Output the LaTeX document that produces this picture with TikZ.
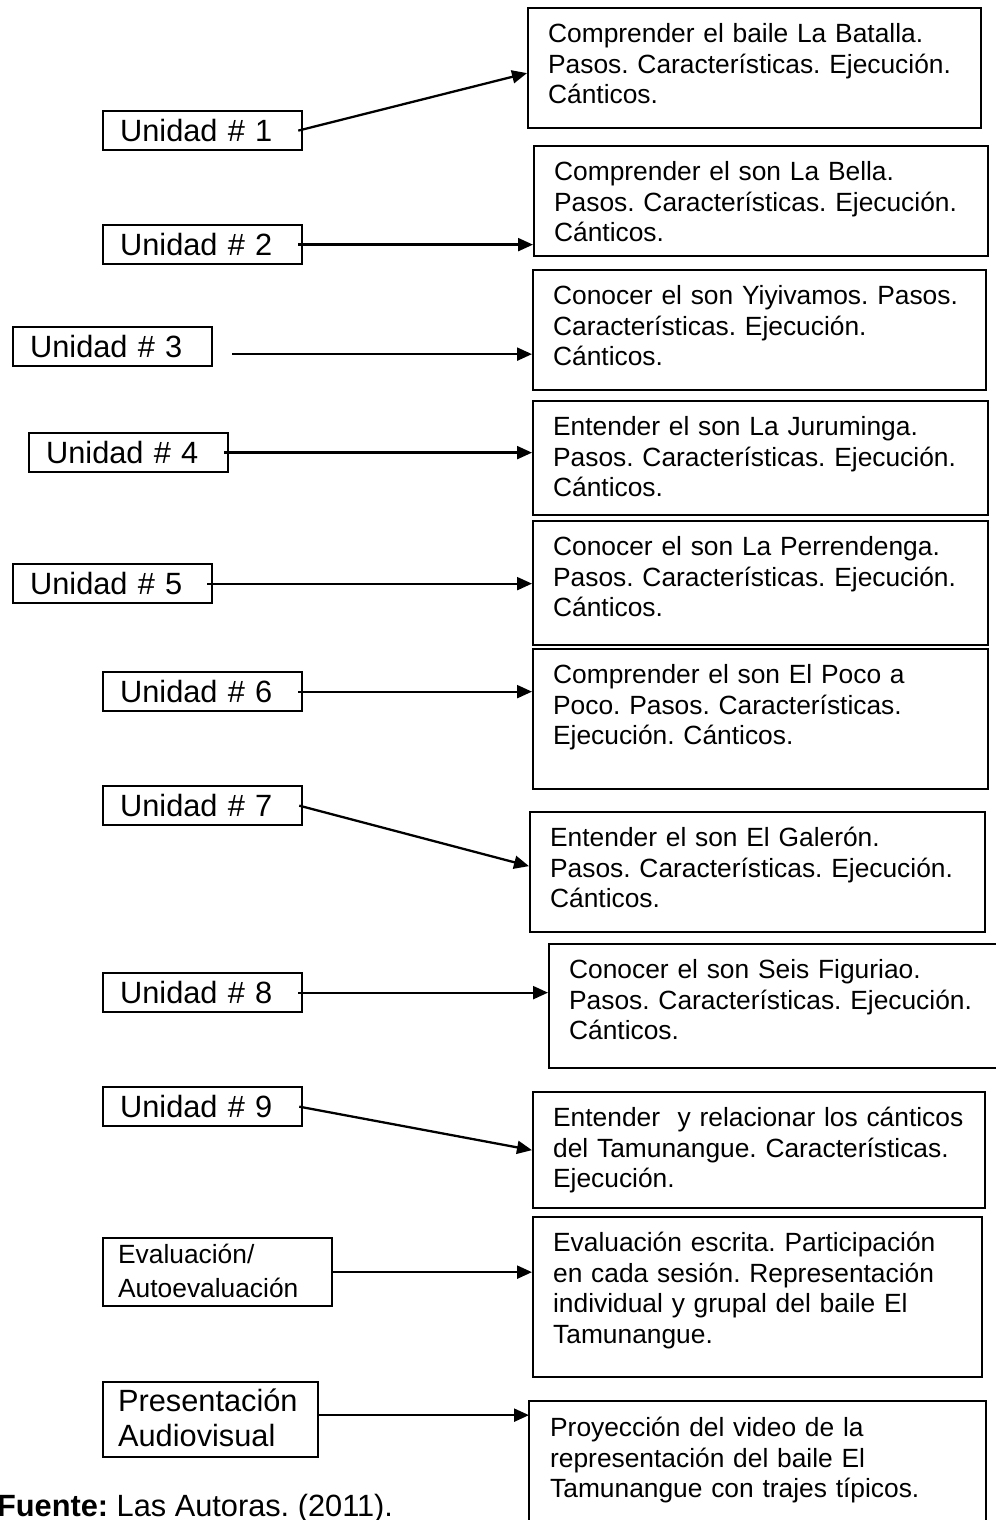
\documentclass[tikz,border=0pt]{standalone}
\usepackage{fontspec}
\setmainfont{Liberation Sans}
\usetikzlibrary{arrows.meta}
\frenchspacing
\hyphenpenalty=10000
\exhyphenpenalty=10000
\newcommand{\TamunangueUnit}{0.02cm}
\newcommand{\TamunangueTextSize}{\fontsize{15}{17.6}\selectfont}
\newcommand{\TamunangueUnitSize}{\fontsize{17.5}{21}\selectfont}

\begin{document}
\begin{tikzpicture}[x=\TamunangueUnit, y=-\TamunangueUnit, line width=1.3pt,
		dancebox/.style={draw, anchor=north west, align=left, inner xsep=0.4cm, inner ysep=0.1cm, text height=0.58cm, font=\TamunangueTextSize},
		unitbox/.style={draw, anchor=north west, align=left, text width=3.3cm, inner xsep=0.34cm, inner ysep=0pt, text height=0.61cm, text depth=0.17cm, font=\TamunangueUnitSize},
		unitarrow/.style={-{Triangle[length=0.3cm, width=0.26cm]}}]
		\useasboundingbox (0,0) rectangle (995,1520);
		\node[unitbox] (u1) at (102,110) {Unidad \# 1};
		\node[unitbox] (u2) at (102,224) {Unidad \# 2};
		\node[unitbox] (u3) at (12,326) {Unidad \# 3};
		\node[unitbox] (u4) at (28,432) {Unidad \# 4};
		\node[unitbox] (u5) at (12,563) {Unidad \# 5};
		\node[unitbox] (u6) at (102,671) {Unidad \# 6};
		\node[unitbox] (u7) at (102,785) {Unidad \# 7};
		\node[unitbox] (u8) at (102,972) {Unidad \# 8};
		\node[unitbox] (u9) at (102,1086) {Unidad \# 9};
		\node[unitbox, text width=3.98cm, inner xsep=0.3cm, text height=0.5cm, text depth=0.86cm, font=\fontsize{15}{19.3}\selectfont] (ev) at (102,1237) {Evaluación/\\Autoevaluación};
		\node[unitbox, text width=3.7cm, inner xsep=0.3cm, text height=0.58cm, text depth=0.92cm, font=\fontsize{17.5}{19.9}\selectfont] (pr) at (102,1381) {Presentación\\Audiovisual};
		\node[anchor=base west, inner sep=0pt, font=\TamunangueUnitSize] (fuente) at (-4,1516) {\textbf{Fuente:} Las Autoras. (2011).};

		\node[dancebox, text width=8.26cm, text depth=1.62cm] (t1) at (527,7) {Comprender el baile La Batalla.\\Pasos. Características. Ejecución.\\Cánticos.};
		\node[dancebox, text width=8.28cm, text depth=1.42cm] (t2) at (533,145) {Comprender el son La Bella.\\Pasos. Características. Ejecución.\\Cánticos.};
		\node[dancebox, text width=8.26cm, text depth=1.62cm] (t3) at (532,269) {Conocer el son Yiyivamos. Pasos.\\Características. Ejecución.\\Cánticos.};
		\node[dancebox, text width=8.30cm, text depth=1.50cm] (t4) at (532,400) {Entender el son La Juruminga.\\Pasos. Características. Ejecución.\\Cánticos.};
		\node[dancebox, text width=8.30cm, text depth=1.70cm] (t5) at (532,520) {Conocer el son La Perrendenga.\\Pasos. Características. Ejecución.\\Cánticos.};
		\node[dancebox, text width=8.30cm, text depth=2.02cm] (t6) at (532,648) {Comprender el son El Poco a\\Poco. Pasos. Características.\\Ejecución. Cánticos.};
		\node[dancebox, text width=8.30cm, text depth=1.62cm] (t7) at (529,811) {Entender el son El Galerón.\\Pasos. Características. Ejecución.\\Cánticos.};
		\node[dancebox, text width=8.18cm, text depth=1.70cm] (t8) at (548,943) {Conocer el son Seis Figuriao.\\Pasos. Características. Ejecución.\\Cánticos.};
		\node[dancebox, text width=8.24cm, text depth=1.54cm] (t9) at (532,1091) {Entender~ y relacionar los cánticos\\del Tamunangue. Características.\\Ejecución.};
		\node[dancebox, text width=8.18cm, text depth=2.42cm] (t10) at (532,1216) {Evaluación escrita. Participación\\en cada sesión. Representación\\individual y grupal del baile El\\Tamunangue.};
		\node[dancebox, draw=none, text width=8.30cm, text depth=1.62cm] (t11) at (529,1401) {Proyección del video de la\\representación del baile El\\Tamunangue con trajes típicos.};
		\coordinate (pagefoot) at (0,1520);
		\draw (t11.north west |- pagefoot) -- (t11.north west) -- (t11.north east) -- (t11.north east |- pagefoot);

		\draw[unitarrow] ([xshift=-0.1cm]u1.east) -- ([yshift=-0.1cm]t1.west);
		\draw[unitarrow] ([xshift=-0.1cm]u2.east) -- (u2.east -| t2.west);
		\coordinate (s3) at ([xshift=0.38cm, yshift=-0.15cm]u3.east);
		\draw[unitarrow] (s3) -- (s3 -| t3.west);
		\draw[unitarrow] ([xshift=-0.1cm]u4.east) -- (u4.east -| t4.west);
		\draw[unitarrow] ([xshift=-0.12cm]u5.east) -- (u5.east -| t5.west);
		\draw[unitarrow] ([xshift=-0.1cm]u6.east) -- (u6.east -| t6.west);
		\draw[unitarrow] ([xshift=-0.08cm]u7.east) -- ([yshift=0.12cm]t7.west);
		\draw[unitarrow] ([xshift=-0.1cm]u8.east) -- (u8.east -| t8.west);
		\draw[unitarrow] ([xshift=-0.08cm]u9.east) -- (t9.west);
		\draw[unitarrow] (ev.east) -- (ev.east -| t10.west);
		\draw[unitarrow] ([yshift=0.09cm]pr.east) -- ([yshift=0.09cm]pr.east -| t11.west);
	\end{tikzpicture}
\end{document}
